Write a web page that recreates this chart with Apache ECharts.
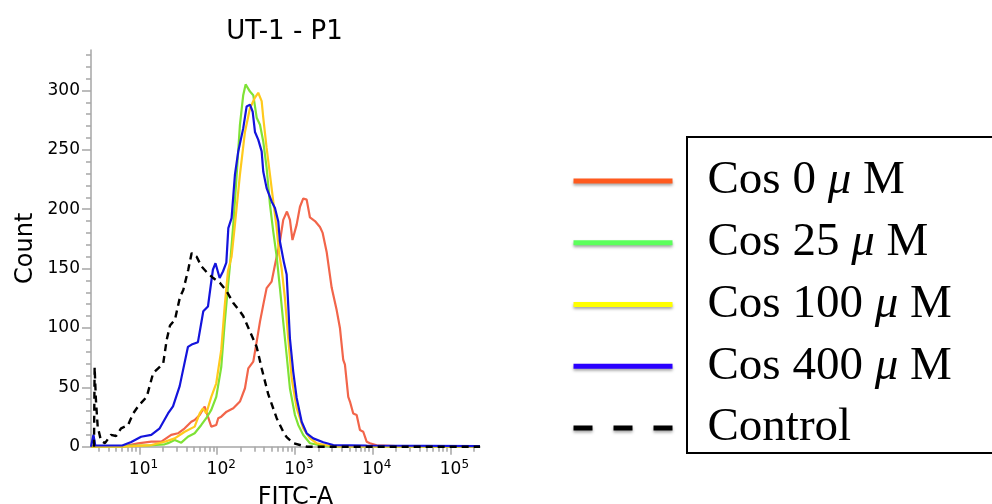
<!DOCTYPE html>
<html>
<head>
<meta charset="utf-8">
<script src="https://cdn.jsdelivr.net/npm/echarts@6/dist/echarts.min.js"></script>
<style>
html,body{margin:0;padding:0;background:#fff;}
#chart{width:992px;height:504px;}
</style>
</head>
<body>
<div id="chart"></div>
<script>
// ---- data (FITC-A fluorescence value, count) ----
const seriesNames = ['Cos 0 μ M', 'Cos 25 μ M', 'Cos 100 μ M', 'Cos 400 μ M', 'Control'];

const redX = [2.38, 6, 9.57, 14.2, 19.1, 25.6, 31.3, 38.2, 46.4, 51.3, 59.5, 69, 76, 83.9, 97.2, 103, 112.7, 132, 161, 196, 227.5, 251, 291, 322, 355, 391, 432, 501, 553, 641, 707, 789, 862, 929, 1052, 1160, 1279, 1415, 1560, 1808, 2097, 2272, 2557, 2965, 3439, 3790, 4180, 4397, 4848, 5098, 5620, 6219, 6855, 7560, 8360, 9218, 11240, 20000, 240000];
const redY = [0, 0, 2.8, 4.2, 4.2, 9.9, 11.3, 15.5, 21, 22.5, 26.7, 33.7, 25.3, 16.9, 18.3, 24, 25.3, 29.5, 32.4, 38, 49.2, 66, 71.6, 88.5, 105.3, 119.4, 133.5, 139, 153, 173, 191, 198, 191, 174, 187, 202, 209, 208, 193, 190, 185, 180, 164, 134, 115, 100, 73, 69, 42, 38, 28, 26.7, 14, 12.6, 4.2, 2.9, 1.2, 0.5, 0.3];

const greenX = [2.38, 6, 8, 13, 21.1, 23.3, 28.4, 34.5, 42, 51.3, 62.4, 72.3, 83.9, 97.2, 112.7, 124.7, 137.5, 146, 161, 178, 196, 216, 232, 264, 291, 322, 355, 391, 432, 477, 526, 582, 641, 707, 782, 862, 1000, 1103, 1279, 1560, 2097, 2820, 240000];
const greenY = [0, 0, 1, 1, 2, 3, 5.6, 3.4, 8.4, 11.3, 18.3, 24, 31, 42, 67, 104, 135, 153, 187, 229, 271, 296, 305, 299, 296, 277, 271, 257, 235, 204, 181, 160, 133.5, 105, 77, 49, 26.7, 18.3, 9.9, 2.9, 1.2, 0, 0];

const yellowX = [2.38, 6.5, 14.2, 21.1, 28.4, 38.2, 51.3, 59.5, 65.6, 72.3, 83.9, 97.2, 112.7, 124.7, 137.5, 153, 169, 196, 227.5, 264, 306, 337, 373, 391, 432, 477, 526, 582, 628, 674, 743, 820, 907, 1052, 1279, 1560, 1902, 2557, 3790, 240000];
const yellowY = [0, 0, 1.4, 4.2, 7, 12.6, 16.9, 28, 32.4, 28, 42, 53.4, 81.5, 118, 148, 160, 187, 229, 265, 285, 294, 298, 291, 277, 251.5, 229, 206.5, 184, 161.5, 150, 125, 91, 57.6, 32.4, 15.5, 7, 2.9, 1.2, 0, 0];

const blueX = [2.38, 2.5, 2.56, 2.7, 3.5, 6.0, 7.84, 10.5, 14.2, 18.2, 23.3, 27, 32.9, 34.9, 42, 46.9, 56.5, 66.2, 76, 80, 88, 95, 107.5, 118.6, 131, 139, 153, 169, 186.5, 216, 239, 264, 286, 306, 337, 373, 391, 432, 501, 553, 610, 641, 722, 782, 820, 862, 951, 1052, 1220, 1415, 1720, 2312, 3110, 8360, 240000];
const blueY = [0, 0, 10, 1, 1, 1, 4, 8.4, 10, 15.5, 28, 34, 51, 59, 84, 86, 88, 114, 118, 129, 149, 154.5, 142, 147.5, 155, 184, 192.5, 229, 248.6, 268, 286.5, 288, 282, 265, 258.5, 248.6, 231.7, 217.7, 206.5, 201, 189.6, 172.7, 155, 145, 119, 91, 63, 41, 21, 11.3, 7, 3.7, 1.4, 1, 0.5];

const ctrlX = [2.6, 2.65, 2.75, 2.9, 3.2, 3.6, 4.3, 5.0, 5.8, 7.1, 8.3, 9.6, 12.4, 15.0, 20.2, 22.4, 24.7, 28.6, 33.2, 36.6, 42.4, 46.9, 54.4, 62.4, 73.2, 89, 108, 132, 161, 196, 216, 264, 322, 373, 454, 582, 707, 782, 951, 1220, 1415, 240000];
const ctrlY = [0, 67, 40, 17, 5, 3, 10, 9, 15.5, 18, 28, 34, 42, 62, 70, 90, 102, 107, 126, 132, 149, 163, 160, 152, 147, 142, 138, 131, 121, 114, 110, 97, 84, 66, 44, 24, 12.6, 8, 3, 1, 0, 0];

// ---- axes ----
const xMin = 2.38, xMax = 240000;
const xMajorExp = [1, 2, 3, 4, 5];
const xMinorTicks = [3, 4, 5, 6, 7, 8, 9, 20, 30, 40, 50, 60, 70, 80, 90, 200, 300, 400, 500, 600, 700, 800, 900,
  2000, 3000, 4000, 5000, 6000, 7000, 8000, 9000, 20000, 30000, 40000, 50000, 60000, 70000, 80000, 90000, 200000];
const yMin = 0, yMax = 334;
const yMajorTicks = [0, 50, 100, 150, 200, 250, 300];
const yMinorTicks = [10, 20, 30, 40, 60, 70, 80, 90, 110, 120, 130, 140, 160, 170, 180, 190, 210, 220, 230, 240, 260, 270, 280, 290, 310, 320, 330];

// ---- styles ----
const lineColors = ['#f2654a', '#7ee236', '#ffca1c', '#1414dc', '#000000'];
const legendColors = ['#ff5a1e', '#5cff5c', '#ffff00', '#2a00ff', '#000000'];
const axisGrey = '#a6a6a6';
const sansFont = 'DejaVu Sans';
const serifFont = 'Liberation Serif';

const zip = (xs, ys) => xs.slice(0, Math.min(xs.length, ys.length)).map((x, i) => [x, ys[i]]);
const seriesData = [zip(redX, redY), zip(greenX, greenY), zip(yellowX, yellowY), zip(blueX, blueY), zip(ctrlX, ctrlY)];

const chart = echarts.init(document.getElementById('chart'), null, { renderer: 'canvas' });

const series = seriesNames.map((name, i) => ({
  name: name,
  type: 'line',
  xAxisIndex: 0,
  yAxisIndex: 0,
  data: seriesData[i],
  symbol: 'none',
  showSymbol: false,
  smooth: false,
  lineStyle: { color: lineColors[i], width: i === 4 ? 2.4 : 2.2, type: i === 4 ? [7, 5] : 'solid' },
  itemStyle: { color: lineColors[i] },
  emphasis: { disabled: true },
  z: 2 + i
}));

const legendData = seriesNames.map((name, i) => ({
  name: name,
  itemStyle: { color: 'rgba(0,0,0,0)', borderWidth: 0, opacity: 0 },
  lineStyle: {
    color: legendColors[i], width: 5, type: i === 4 ? [19, 21] : 'solid',
    shadowColor: 'rgba(0,0,0,0.35)', shadowBlur: 3, shadowOffsetY: 2
  }
}));

const option = {
  animation: false,
  backgroundColor: '#ffffff',
  title: {
    text: 'UT-1 - P1',
    left: 284.5,
    top: 19,
    padding: 0,
    textAlign: 'center',
    textStyle: { fontFamily: sansFont, fontSize: 26, fontWeight: 'normal', color: '#000' }
  },
  grid: { left: 91, top: 50, width: 389, height: 396.7, containLabel: false, outerBoundsMode: 'none' },
  xAxis: [
    { // data axis (log scale)
      type: 'log', logBase: 10, min: xMin, max: xMax, position: 'bottom', show: false
    },
    { // major ticks + labels, in decades
      type: 'value', min: Math.log10(xMin), max: Math.log10(xMax), position: 'bottom', offset: 0,
      axisLine: { show: true, lineStyle: { color: axisGrey, width: 1.5 } },
      axisTick: { show: true, customValues: xMajorExp, length: 8, lineStyle: { color: axisGrey, width: 1.5 } },
      axisLabel: {
        customValues: xMajorExp,
        formatter: v => '10{s|' + Math.round(v) + '}',
        fontFamily: sansFont, fontSize: 17, color: '#000', margin: 12, lineHeight: 22,
        padding: [0, 0, 0, 8],
        rich: { s: { fontFamily: sansFont, fontSize: 12, color: '#000', lineHeight: 12, verticalAlign: 'top' } }
      },
      splitLine: { show: false },
      name: 'FITC-A', nameLocation: 'middle', nameGap: 36,
      nameTextStyle: { fontFamily: sansFont, fontSize: 24, color: '#000', padding: [0, 0, 0, 20] }
    },
    { // minor ticks
      type: 'value', min: Math.log10(xMin), max: Math.log10(xMax), position: 'bottom', offset: 0,
      axisLine: { show: false },
      axisTick: { show: true, customValues: xMinorTicks.map(v => Math.log10(v)), length: 5, lineStyle: { color: axisGrey, width: 1.5 } },
      axisLabel: { show: false },
      splitLine: { show: false }
    }
  ],
  yAxis: [
    {
      type: 'value', min: yMin, max: yMax, position: 'left', offset: 0,
      axisLine: { show: true, lineStyle: { color: axisGrey, width: 1.5 } },
      axisTick: { show: true, customValues: yMajorTicks, length: 9, lineStyle: { color: axisGrey, width: 1.5 } },
      axisLabel: { customValues: yMajorTicks, fontFamily: sansFont, fontSize: 17, color: '#000', margin: 11 },
      splitLine: { show: false },
      name: 'Count', nameLocation: 'middle', nameGap: 53, nameRotate: 90,
      nameTextStyle: { fontFamily: sansFont, fontSize: 24, color: '#000' }
    },
    {
      type: 'value', min: yMin, max: yMax, position: 'left', offset: 0,
      axisLine: { show: false },
      axisTick: { show: true, customValues: yMinorTicks, length: 5, lineStyle: { color: axisGrey, width: 1.5 } },
      axisLabel: { show: false },
      splitLine: { show: false }
    }
  ],
  legend: {
    orient: 'vertical',
    left: 571,
    top: 156,
    padding: 0,
    itemWidth: 99,
    itemHeight: 14,
    itemGap: 11.75,
    selectedMode: false,
    data: legendData,
    formatter: name => name.replace('μ', '{m|μ}'),
    textStyle: {
      fontFamily: serifFont, fontSize: 47, color: '#000', lineHeight: 50,
      padding: [0, 0, 0, 30],
      rich: { m: { fontFamily: serifFont, fontSize: 47, fontStyle: 'italic', color: '#000', lineHeight: 50 } }
    }
  },
  graphic: [
    {
      type: 'rect',
      shape: { x: 687, y: 137, width: 400, height: 316 },
      style: { fill: 'none', stroke: '#000', lineWidth: 2 },
      silent: true,
      z: 0
    }
  ],
  series: series
};

chart.setOption(option);
</script>
</body>
</html>
